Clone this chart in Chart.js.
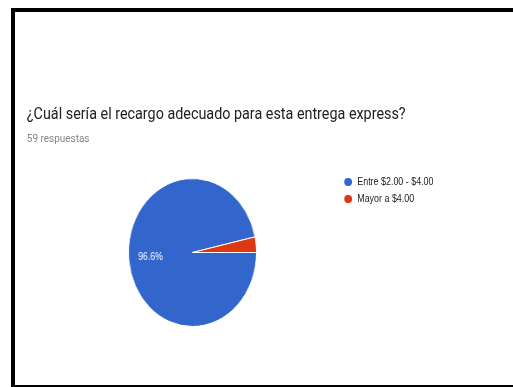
<!DOCTYPE html>
<html>
<head>
<meta charset="utf-8">
<script src="https://cdn.jsdelivr.net/npm/chart.js@4/dist/chart.umd.min.js"></script>
<style>
  html, body { margin: 0; padding: 0; background: #fff; overflow: hidden; }
  body { width: 513px; height: 387px; position: relative; }
  .ln { position: absolute; background: #000; }
  #ltop { left: 11px; top: 8px; width: 502px; height: 4px; }
  #lleft { left: 11px; top: 8px; width: 4px; height: 379px; }
  #lbot { left: 11px; top: 385px; width: 502px; height: 2px; }
  #sq { position: absolute; left: 0; top: 0; width: 593px; height: 387px;
        transform: scaleX(0.865); transform-origin: 0 0; }
  #title { position: absolute; left: 31px; top: 104px; font: 16.6px/20px Roboto, sans-serif; color: #202124; white-space: nowrap; }
  #sub { position: absolute; left: 31px; top: 131px; font: 11.5px/14px Roboto, sans-serif; color: #80868b; white-space: nowrap; }
  #pie { position: absolute; left: 148px; top: 178px; width: 149px; height: 149px; }
  #legend { position: absolute; left: 398px; top: 174px; font: 10.3px/16.5px "Liberation Sans", Arial, sans-serif; color: #222; }
  #legend div { position: relative; height: 16.5px; white-space: nowrap; }
  #legend span.dot { position: absolute; left: 0; top: 4px; width: 8.5px; height: 8px; border-radius: 50%; }
  #legend span.txt { position: absolute; left: 15px; top: 0; }
</style>
</head>
<body>
<div class="ln" id="ltop"></div>
<div class="ln" id="lleft"></div>
<div class="ln" id="lbot"></div>
<div id="sq">
  <div id="title"></div>
  <div id="sub"></div>
  <div id="pie"><canvas id="c"></canvas></div>
  <div id="legend"></div>
</div>
<script>
const titleText = "¿Cuál sería el recargo adecuado para esta entrega express?";
const subtitleText = "59 respuestas";
const categories = ["Entre $2.00 - $4.00", "Mayor a $4.00"];
const counts = [57, 2];
const colors = ["#3366CC", "#DC3912"];

document.getElementById('title').textContent = titleText;
document.getElementById('sub').textContent = subtitleText;

const pieLabels = {
  id: 'pieLabels',
  afterDatasetsDraw(chart) {
    const ctx = chart.ctx;
    const meta = chart.getDatasetMeta(0);
    const total = counts.reduce((a, b) => a + b, 0);
    meta.data.forEach((arc, i) => {
      const pct = counts[i] / total * 100;
      if (pct < 5) return;
      const p = arc.getProps(['x', 'y', 'startAngle', 'endAngle', 'outerRadius'], true);
      const mid = (p.startAngle + p.endAngle) / 2;
      const r = p.outerRadius * 0.66;
      ctx.save();
      ctx.fillStyle = '#fff';
      ctx.font = '10px "Liberation Sans", Arial, sans-serif';
      ctx.textAlign = 'center';
      ctx.textBaseline = 'middle';
      ctx.fillText(pct.toFixed(1) + '%', p.x + Math.cos(mid) * r, p.y + Math.sin(mid) * r);
      ctx.restore();
    });
  }
};

const chart = new Chart(document.getElementById('c'), {
  type: 'pie',
  data: {
    labels: categories,
    datasets: [{ data: counts, backgroundColor: colors, borderColor: '#fff', borderWidth: 1 }]
  },
  options: {
    responsive: true,
    maintainAspectRatio: false,
    animation: false,
    rotation: 90,
    layout: { padding: 0 },
    plugins: { legend: { display: false }, tooltip: { enabled: false } }
  },
  plugins: [pieLabels]
});

// HTML legend built from the chart's own legend items
const items = Chart.overrides.pie.plugins.legend.labels.generateLabels(chart);
const leg = document.getElementById('legend');
items.forEach(it => {
  const row = document.createElement('div');
  const dot = document.createElement('span');
  dot.className = 'dot';
  dot.style.background = it.fillStyle;
  const txt = document.createElement('span');
  txt.className = 'txt';
  txt.textContent = it.text;
  row.appendChild(dot);
  row.appendChild(txt);
  leg.appendChild(row);
});
</script>
</body>
</html>
